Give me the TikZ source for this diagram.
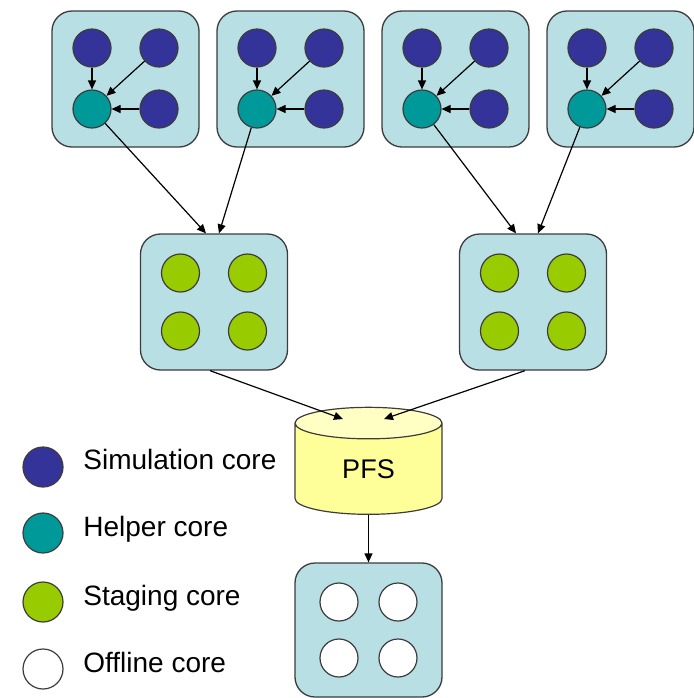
\documentclass[tikz,border=0pt]{standalone}
\usepackage{fontspec}
\setmainfont{Liberation Sans}
\usetikzlibrary{arrows.meta,positioning,calc,shapes.geometric}
\definecolor{CsSimBlue}{RGB}{51,51,153}
\definecolor{CsHelpTeal}{RGB}{0,153,153}
\definecolor{CsStageGreen}{RGB}{153,204,0}
\definecolor{CsBoxBlue}{RGB}{184,223,228}
\definecolor{CsBorder}{RGB}{60,60,60}
\definecolor{CsPfsBody}{RGB}{255,255,153}
\definecolor{CsPfsTop}{RGB}{255,255,196}
\tikzset{
  cs/box/.style={
    draw=CsBorder,
    line width=0.65pt,
    rounded corners=10pt,
    fill=CsBoxBlue,
    minimum width=73.5pt,
    minimum height=68pt,
    inner sep=0pt
  },
  cs/core/.style={circle, draw=CsBorder, line width=0.6pt, minimum size=19pt, inner sep=0pt},
  cs/sim/.style={cs/core, fill=CsSimBlue},
  cs/help/.style={cs/core, fill=CsHelpTeal},
  cs/stage/.style={cs/core, fill=CsStageGreen},
  cs/off/.style={cs/core, fill=white},
  cs/legend/.style={cs/core, minimum size=20pt},
  cs/db/.style={
    cylinder,
    shape border rotate=90,
    aspect=0.6,
    draw=CsBorder,
    line width=0.6pt,
    cylinder uses custom fill,
    cylinder body fill=CsPfsBody,
    cylinder end fill=CsPfsTop,
    minimum height=53.5pt,
    minimum width=73.5pt,
    inner sep=0pt,
    font=\fontsize{13.5}{16}\selectfont
  },
  cs/arrow/.style={-{Triangle[length=4.5pt,width=4pt]}, line width=0.6pt, draw=black},
  cs/label/.style={font=\fontsize{14}{17}\selectfont, text=black, anchor=base west, inner sep=0pt}
}

\begin{document}
\begin{tikzpicture}[x=0.5pt,y=-0.5pt]
  \useasboundingbox (0,0) rectangle (693,698);

  % compute nodes: three simulation cores feed one helper core
  \foreach \i/\x in {1/125.5,2/290.5,3/455.5,4/620.5} {
    \node[cs/box] (tb\i) at (\x,79) {};
    \node[cs/sim] (sa\i) at (\x-33.5,48) {};
    \node[cs/sim] (sb\i) at (\x+33.5,48) {};
    \node[cs/help] (hc\i) at (\x-33.5,109) {};
    \node[cs/sim] (sc\i) at (\x+33.5,109) {};
    \draw[cs/arrow] (sa\i) -- (hc\i);
    \draw[cs/arrow] (sb\i) -- (hc\i);
    \draw[cs/arrow] (sc\i) -- (hc\i);
  }

  % staging nodes
  \foreach \i/\x in {1/214,2/533} {
    \node[cs/box] (mb\i) at (\x,302) {};
    \node[cs/stage] (ga\i) at (\x-33.5,273) {};
    \node[cs/stage] (gb\i) at (\x+33.5,273) {};
    \node[cs/stage] (gc\i) at (\x-33.5,331) {};
    \node[cs/stage] (gd\i) at (\x+33.5,331) {};
  }
  \draw[cs/arrow] (hc1) -- ($(mb1.north)+(-8,0)$);
  \draw[cs/arrow] (hc2) -- ($(mb1.north)+(5,0)$);
  \draw[cs/arrow] (hc3) -- ($(mb2.north)+(-17,0)$);
  \draw[cs/arrow] (hc4) -- ($(mb2.north)+(5,0)$);

  % parallel file system
  \node[cs/db] (pfs) at (368.5,469) {PFS};
  \coordinate (pfsL) at (343,419);
  \coordinate (pfsR) at (384,419);
  \draw[cs/arrow] ($(mb1.south)+(-4,0)$) -- (pfsL);
  \draw[cs/arrow] ($(mb2.south)+(-8,0)$) -- (pfsR);

  % offline node
  \node[cs/box, minimum height=67pt] (ob) at (368.5,630) {};
  \node[cs/off] (oa) at (339,602) {};
  \node[cs/off] (obb) at (398,602) {};
  \node[cs/off] (oc) at (339,658) {};
  \node[cs/off] (od) at (398,658) {};
  \draw[cs/arrow] (pfs.south) -- (ob.north);

  % legend
  \node[cs/legend, fill=CsSimBlue] (lsim) at (43,467) {};
  \node[cs/legend, fill=CsHelpTeal] (lhelp) at (43,533) {};
  \node[cs/legend, fill=CsStageGreen] (lstage) at (43,602) {};
  \node[cs/legend, fill=white] (loff) at (43,669) {};
  \node[cs/label] (tsim) at (83,469) {Simulation core};
  \node[cs/label] (thelp) at (83,536) {Helper core};
  \node[cs/label] (tstage) at (83,605) {Staging core};
  \node[cs/label] (toff) at (83,672) {Offline core};
\end{tikzpicture}
\end{document}
